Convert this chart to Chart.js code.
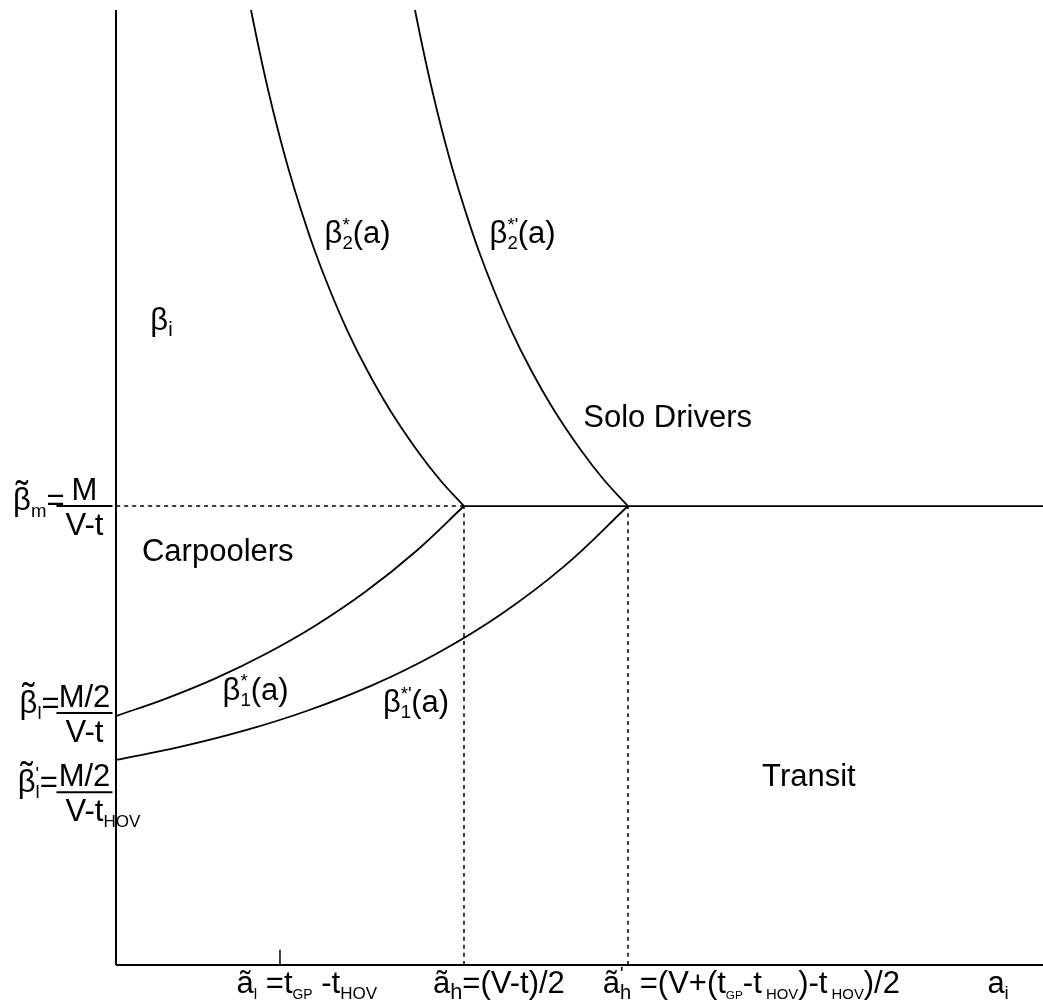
<!DOCTYPE html>
<html lang="en">
    <head>
        <meta charset="utf-8" />
        <script src="https://cdn.jsdelivr.net/npm/chart.js@4.4.1/dist/chart.umd.min.js"></script>
        <title>Mode choice regions</title>
        <style>
            body { margin: 0; background: #fff; }
            #wrap { width: 1043px; height: 1006px; }
        </style>
    </head>
    <body>
        <div id="wrap"><canvas id="grafico"></canvas></div>
        <script>
            // curve samples (a on x, beta on y, both 0..10)
            const aBeta2 = [1.456, 1.545, 1.641, 1.747, 1.864, 1.996, 2.141, 2.307, 2.493, 2.708, 2.955, 3.245, 3.496, 3.754];
            const bBeta2 = [10.0, 9.581, 9.162, 8.743, 8.325, 7.906, 7.487, 7.068, 6.649, 6.230, 5.812, 5.393, 5.079, 4.806];
            const aBeta2p = [3.225, 3.314, 3.410, 3.516, 3.633, 3.765, 3.910, 4.076, 4.262, 4.477, 4.724, 5.014, 5.265, 5.523];
            const bBeta2p = [10.0, 9.581, 9.162, 8.743, 8.325, 7.906, 7.487, 7.068, 6.649, 6.230, 5.812, 5.393, 5.079, 4.806];
            const aBeta1 = [0, 0.539, 1.079, 1.618, 2.157, 2.697, 3.236, 3.754];
            const bBeta1 = [2.607, 2.790, 3.004, 3.259, 3.558, 3.913, 4.333, 4.806];
            const aBeta1p = [0, 0.690, 1.381, 2.071, 2.762, 3.452, 4.142, 4.833, 5.523];
            const bBeta1p = [2.147, 2.283, 2.453, 2.665, 2.928, 3.257, 3.665, 4.174, 4.806];

            // thresholds
            const aL = 1.769;   // a~l = tGP - tHOV
            const aH = 3.754;   // a~h
            const aHp = 5.523;  // a~'h
            const bM = 4.806;   // beta~m
            const aMax = 10;
            const bMax = 10;

            const pts = (xs, ys) => xs.map((x, i) => ({x: x, y: ys[i]}));
            const linea = (data, w, dash) => ({
                data: data, borderColor: "#000", borderWidth: w, borderDash: dash || [],
                pointRadius: 0, fill: false, clip: false, tension: 0.4, showLine: true
            });

            const FONT = '"Liberation Sans", Arial, sans-serif';

            // text pieces one after the other: [text, mode, keepX, scale]
            // mode: n normal, sub, sup, til (letter with tilde on top)
            function rich(ctx, x, y, parts, size) {
                let cx = x;
                parts.forEach(p => {
                    const s = p[1] || "n";
                    const fs = s == "n" || s == "til" ? size : size * (p[3] || 0.6);
                    const dy = s == "sub" ? size * 0.2 : (s == "sup" ? -size * 0.4 : 0);
                    ctx.font = fs + "px " + FONT;
                    ctx.fillText(p[0], cx, y + dy);
                    const w = ctx.measureText(p[0]).width;
                    if (s == "til") {
                        ctx.font = (size * 1.2) + "px " + FONT;
                        const wt = ctx.measureText("˜").width;
                        ctx.fillText("˜", cx + (w - wt) / 2, y - size * 0.12);
                    }
                    if (!p[2]) cx += w;
                });
                return cx;
            }

            // labels: a, beta = left baseline in data units
            const textos = [
                {a: 0.37, b: 6.65, parts: [["β"], ["i", "sub", false, 0.65]]},
                {a: 2.25, b: 7.56, parts: [["β"], ["*", "sup", true], ["2", "sub"], ["(a)"]]},
                {a: 4.03, b: 7.56, parts: [["β"], ["*'", "sup", true], ["2", "sub"], ["(a)"]]},
                {a: 5.04, b: 5.63, parts: [["Solo Drivers"]]},
                {a: 0.28, b: 4.23, parts: [["Carpoolers"]]},
                {a: 1.15, b: 2.78, parts: [["β"], ["*", "sup", true], ["1", "sub"], ["(a)"]]},
                {a: 2.88, b: 2.65, parts: [["β"], ["*'", "sup", true], ["1", "sub"], ["(a)"]]},
                {a: 6.97, b: 1.87, parts: [["Transit"]]},
                {a: 1.30, b: -0.29, parts: [["ã"], ["l", "sub", false, 0.5], [" =t"], ["GP", "sub", false, 0.45], [" -t"], ["HOV", "sub", false, 0.55]]},
                {a: 3.42, b: -0.29, parts: [["ã"], ["h", "sub", false, 0.7], ["=(V-t)/2"]]},
                {a: 5.25, b: -0.29, parts: [["ã"], ["'", "sup", true], ["h", "sub", false, 0.65], [" =(V+(t"], ["GP", "sub", false, 0.38], ["-t"], [" HOV", "sub", false, 0.48], [")-t"], [" HOV", "sub", false, 0.48], [")/2"]]},
                {a: 9.40, b: -0.29, parts: [["a"], ["i", "sub", false, 0.6]]},
                {a: -1.11, b: 4.76, parts: [["β", "til"], ["m", "sub"], ["="]]},
                {a: -1.04, b: 2.64, parts: [["β", "til"], ["l", "sub"], ["="]]},
                {a: -1.06, b: 1.81, parts: [["β", "til"], ["'", "sup", true], ["l", "sub"], ["="]]}
            ];
            // fractions on the beta axis: bar centre a, bar beta, numerator, denominator
            const fracciones = [
                {a: -0.34, b: bM, num: [["M"]], den: [["V-t"]]},
                {a: -0.34, b: 2.64, num: [["M/2"]], den: [["V-t"]]},
                {a: -0.34, b: 1.81, num: [["M/2"]], den: [["V-t"], ["HOV", "sub", false, 0.55]]}
            ];

            const etiquetas = {
                id: "etiquetas",
                afterDatasetsDraw(chart) {
                    const ctx = chart.ctx;
                    const sx = chart.scales.x, sy = chart.scales.y;
                    const size = 31;
                    ctx.save();
                    ctx.fillStyle = "#000";
                    ctx.textBaseline = "alphabetic";
                    textos.forEach(t => rich(ctx, sx.getPixelForValue(t.a), sy.getPixelForValue(t.b), t.parts, size));
                    fracciones.forEach(f => {
                        const cx = sx.getPixelForValue(f.a), y = sy.getPixelForValue(f.b);
                        ctx.strokeStyle = "#000";
                        ctx.lineWidth = 2;
                        ctx.beginPath();
                        ctx.moveTo(cx - 28, y);
                        ctx.lineTo(cx + 28, y);
                        ctx.stroke();
                        ctx.font = size + "px " + FONT;
                        const wn = ctx.measureText(f.num[0][0]).width;
                        rich(ctx, cx - wn / 2, y - 6, f.num, size);
                        const wd = ctx.measureText(f.den[0][0]).width;
                        rich(ctx, cx - wd / 2, y + 29, f.den, size);
                    });
                    ctx.restore();
                }
            };

            new Chart(document.getElementById("grafico"), {
                type: "scatter",
                data: {
                    datasets: [
                        linea([{x: 0, y: 0}, {x: 0, y: bMax}], 2),
                        linea([{x: 0, y: 0}, {x: aMax, y: 0}], 2),
                        linea([{x: aL, y: 0}, {x: aL, y: 0.16}], 1.5),
                        linea([{x: 0, y: bM}, {x: aH, y: bM}], 1.5, [4, 4]),
                        linea([{x: aH, y: 0}, {x: aH, y: bM}], 1.5, [4, 4]),
                        linea([{x: aHp, y: 0}, {x: aHp, y: bM}], 1.5, [4, 4]),
                        linea([{x: aH, y: bM}, {x: aMax, y: bM}], 1.8),
                        linea(pts(aBeta2, bBeta2), 1.8),
                        linea(pts(aBeta2p, bBeta2p), 1.8),
                        linea(pts(aBeta1, bBeta1), 1.8),
                        linea(pts(aBeta1p, bBeta1p), 1.8)
                    ]
                },
                options: {
                    responsive: true,
                    maintainAspectRatio: false,
                    animation: false,
                    layout: {padding: {left: 116, top: 10, right: 0, bottom: 41}},
                    scales: {
                        x: {type: "linear", min: 0, max: aMax, display: false},
                        y: {type: "linear", min: 0, max: bMax, display: false}
                    },
                    plugins: {
                        legend: {display: false},
                        tooltip: {enabled: false}
                    }
                },
                plugins: [etiquetas]
            });
        </script>
    </body>
</html>
